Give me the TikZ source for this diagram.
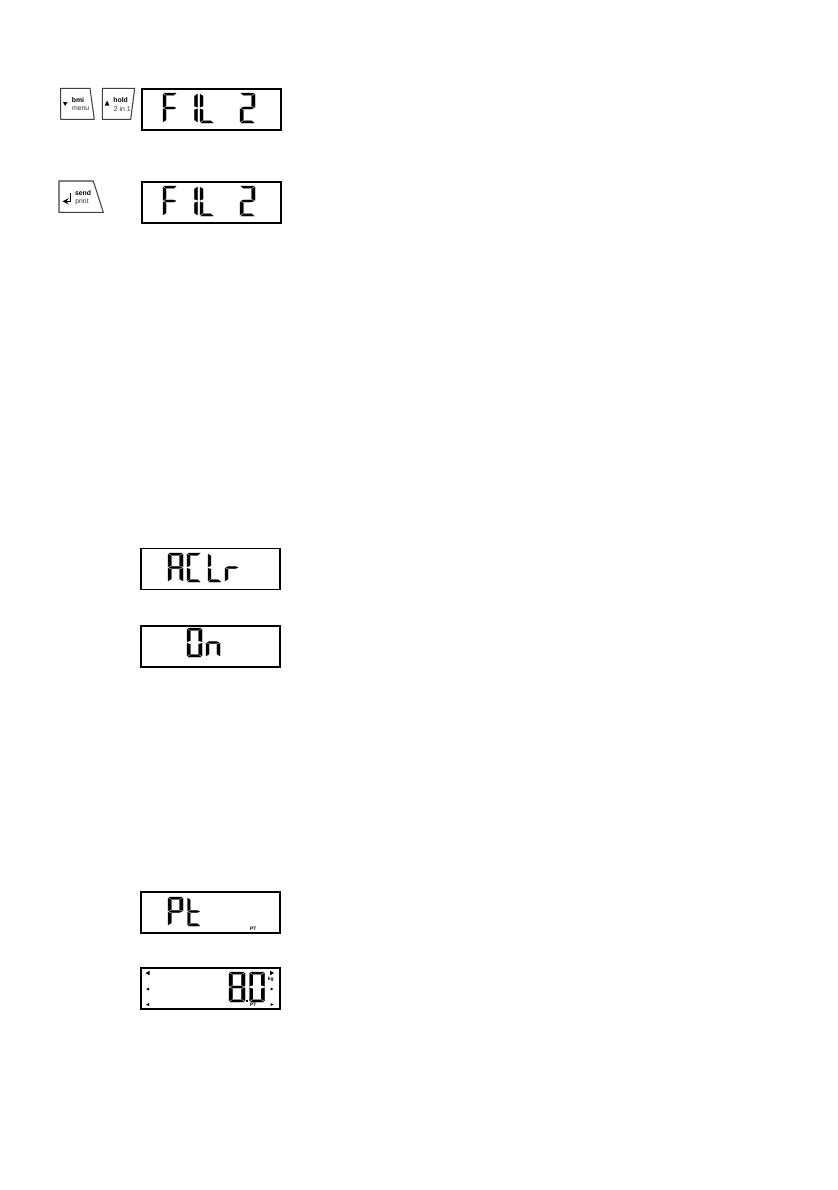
\documentclass[tikz,border=0pt]{standalone}
\usepackage{fontspec}
\setmainfont{Liberation Sans}
\tikzset{
  lcdbox/.style={draw,black,line width=0.95pt,inner sep=0pt,minimum width=2.78cm,minimum height=0.82cm},
  lcdseg/.style={fill=black,draw=black,line width=0.1pt,line join=round},
  keyline/.style={draw,black!75,line width=0.6pt,line join=round},
  keybold/.style={inner sep=0pt,font=\fontsize{3.9}{4}\selectfont\bfseries},
  keyplain/.style={inner sep=0pt,text=black!80,font=\fontsize{3.9}{4}\selectfont},
  tinylabel/.style={inner sep=0pt,font=\fontsize{2.8}{3}\selectfont\bfseries}
}
% segments of one lcd character, unit box, y runs down
\def\lcda{(.05,0)--(.95,0)--(.76,.08)--(.24,.08)--cycle}
\def\lcdb{(1,.035)--(1,.475)--(.78,.44)--(.78,.10)--cycle}
\def\lcdc{(1,.525)--(1,.965)--(.78,.90)--(.78,.56)--cycle}
\def\lcdd{(.05,1)--(.95,1)--(.76,.92)--(.24,.92)--cycle}
\def\lcde{(0,.525)--(0,.965)--(.22,.90)--(.22,.56)--cycle}
\def\lcdf{(0,.035)--(0,.475)--(.22,.44)--(.22,.10)--cycle}
\def\lcdg{(.06,.5)--(.24,.465)--(.76,.465)--(.94,.5)--(.76,.535)--(.24,.535)--cycle}
\newcommand{\lcdchar}[5]{%
  \begin{scope}[shift={(#1,#2)},xscale=#3,yscale=#4]
    \foreach \s in {#5} {\path [lcdseg] \csname lcd\s\endcsname;}
  \end{scope}}
\begin{document}
\begin{tikzpicture}[x=0.02cm,y=-0.02cm]
\useasboundingbox (0,0) rectangle (838,1190);
    % the two keys above the first display
    \draw [keyline] (60.7,88.3) -- (90,88.3) -- (94.3,119.3) -- (60.7,119.3) -- cycle;
    \fill [black] (63,102) -- (67.4,102) -- (65.2,106) -- cycle;
    \node[keybold] (bmi) at (78,100.5) {bmi};
    \node[keyplain] (menu) at (80.7,108.7) {menu};
    \draw [keyline] (102.3,88.3) -- (134.7,88.3) -- (130.7,119.3) -- (102.3,119.3) -- cycle;
    \fill [black] (104.8,105.5) -- (109.4,105.5) -- (107.1,100.5) -- cycle;
    \node[keybold] (hold) at (120.7,100.5) {hold};
    \node[keyplain] (twoinone) at (122.3,109) {2 in 1};
    % the send key
    \draw [keyline] (59,181) -- (93.3,181) -- (103.3,212.3) -- (59,212.3) -- cycle;
    \node[keybold] (send) at (83,193) {send};
    \node[keyplain] (print) at (82,202) {print};
    \coordinate (RetStart) at (70.7,193.3);
    \coordinate (RetBend) at (70.7,201.3);
    \coordinate (RetEnd) at (62.5,201.3);
    \draw [-stealth,line width=0.55pt] (RetStart) -- (RetBend) -- (RetEnd);
    % displays
    \node[lcdbox] (FilA) at (211.7,109.5) {};
    \node[lcdbox] (FilB) at (211.7,202.3) {};
    \node[lcdbox] (Aclr) at (210.8,569) {};
    \node[lcdbox] (On) at (210.8,646.2) {};
    \node[lcdbox] (Pt) at (210.4,912.3) {};
    \node[lcdbox] (Val) at (210.5,988.4) {};
    % FIL 2, twice
    \foreach \y in {93,186} {
      \lcdchar{163}{\y}{14}{30}{a,f,e,g}
      \lcdchar{183.5}{\y}{14}{30}{b,c}
      \lcdchar{200}{\y}{14}{30}{d,e,f}
      \lcdchar{240}{\y}{15}{30}{a,b,g,e,d}
    }
    % ACLr
    \lcdchar{168}{553}{15}{29}{a,b,c,e,f,g}
    \lcdchar{187}{553}{14}{29}{a,d,e,f}
    \lcdchar{208}{553}{13.5}{29}{d,e,f}
    \lcdchar{225}{553}{14}{29}{e,g}
    % On
    \lcdchar{187}{628}{15}{29}{a,b,c,d,e,f}
    \lcdchar{206}{628}{14}{29}{c,e,g}
    % Pt
    \lcdchar{168}{897}{15}{29}{a,b,e,f,g}
    \lcdchar{187.5}{897}{13}{29}{d,e,f,g}
    \node[tinylabel] (PtA) at (253.3,928.5) {PT};
    % 8.0
    \lcdchar{229}{972}{16}{30}{a,b,c,d,e,f,g}
    \lcdchar{249.5}{972}{15}{30}{a,b,c,d,e,f}
    \fill [black] (246,999.5) rectangle (248,1002);
    \node[tinylabel] (PtB) at (253.3,1005) {PT};
    \node[tinylabel] (Kg) at (270.8,979.3) {kg};
    \fill [black] (145.5,973) -- (149.5,970.8) -- (149.5,975.2) -- cycle;
    \fill [black] (274,973) -- (270,970.8) -- (270,975.2) -- cycle;
    \foreach \y in {989,1004.5} {
      \fill [black] (146,\y) -- (149,\y-1.5) -- (149,\y+1.5) -- cycle;
      \fill [black] (273.5,\y) -- (270.5,\y-1.5) -- (270.5,\y+1.5) -- cycle;
    }
\end{tikzpicture}
\end{document}
